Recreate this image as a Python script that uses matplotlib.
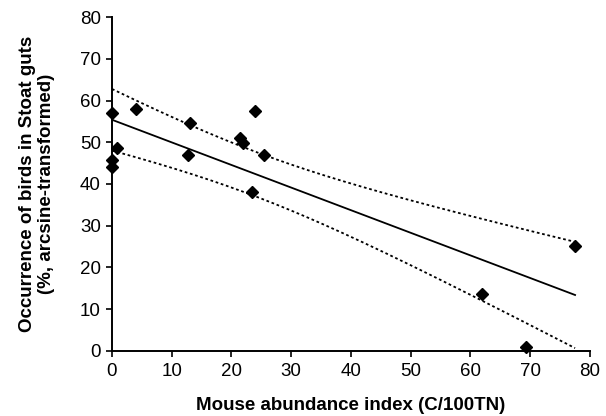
import numpy as np
import matplotlib
matplotlib.use("Agg")
import matplotlib.pyplot as plt

plt.rcParams['font.family'] = ['Liberation Sans', 'DejaVu Sans']

# mouse abundance index (C/100TN) and bird occurrence (%, arcsine-transformed)
mouse = np.array([0.0, 0.0, 0.0, 0.8, 4.0, 13.1, 12.8, 24.0, 21.4, 21.9, 25.4, 23.4, 77.5, 62.0, 69.3])
birds = np.array([57.0, 45.7, 44.0, 48.6, 58.0, 54.5, 47.0, 57.5, 51.1, 49.8, 47.0, 38.2, 25.2, 13.7, 0.9])

xticks = [0, 10, 20, 30, 40, 50, 60, 70, 80]
yticks = [0, 10, 20, 30, 40, 50, 60, 70, 80]

# least squares fit with 95% confidence band of the mean
slope, icept = np.polyfit(mouse, birds, 1)
n = len(mouse)
resid = birds - (icept + slope * mouse)
s = np.sqrt(np.sum(resid ** 2) / (n - 2))
t95 = 2.160  # t(0.975, df=13)
xs = np.linspace(mouse.min(), mouse.max(), 200)
fit = icept + slope * xs
se = s * np.sqrt(1 / n + (xs - mouse.mean()) ** 2 / np.sum((mouse - mouse.mean()) ** 2))

fig = plt.figure(figsize=(6.06, 4.16), dpi=100)
ax = fig.add_axes([0.1848, 0.1563, 0.7888, 0.8028])

ax.plot(xs, fit, color='black', lw=1.3)
ax.plot(xs, fit + t95 * se, color='black', lw=1.3, ls=(0, (1.5, 1.5)))
ax.plot(xs, fit - t95 * se, color='black', lw=1.3, ls=(0, (1.5, 1.5)))
ax.plot(mouse, birds, 'D', color='black', ms=6.3, clip_on=False, zorder=5)

ax.set_xlim(0, 80)
ax.set_ylim(0, 80)
ax.set_xticks(xticks)
ax.set_yticks(yticks)
ax.tick_params(labelsize=13.5, width=1.2, length=4, direction='out', color='black', pad=4)
ax.tick_params(axis='x', pad=5)
for side in ['top', 'right']:
    ax.spines[side].set_visible(False)
for side in ['left', 'bottom']:
    ax.spines[side].set_linewidth(1.4)

ax.set_xlabel('Mouse abundance index (C/100TN)', fontsize=13.5, fontweight='bold', labelpad=12)
ax.set_ylabel('Occurrence of birds in Stoat guts\n(%, arcsine-transformed)', fontsize=13.5,
              fontweight='bold', linespacing=1.15)
ax.yaxis.set_label_coords(-0.12, 0.5)

fig.savefig('out.png', dpi=100)
